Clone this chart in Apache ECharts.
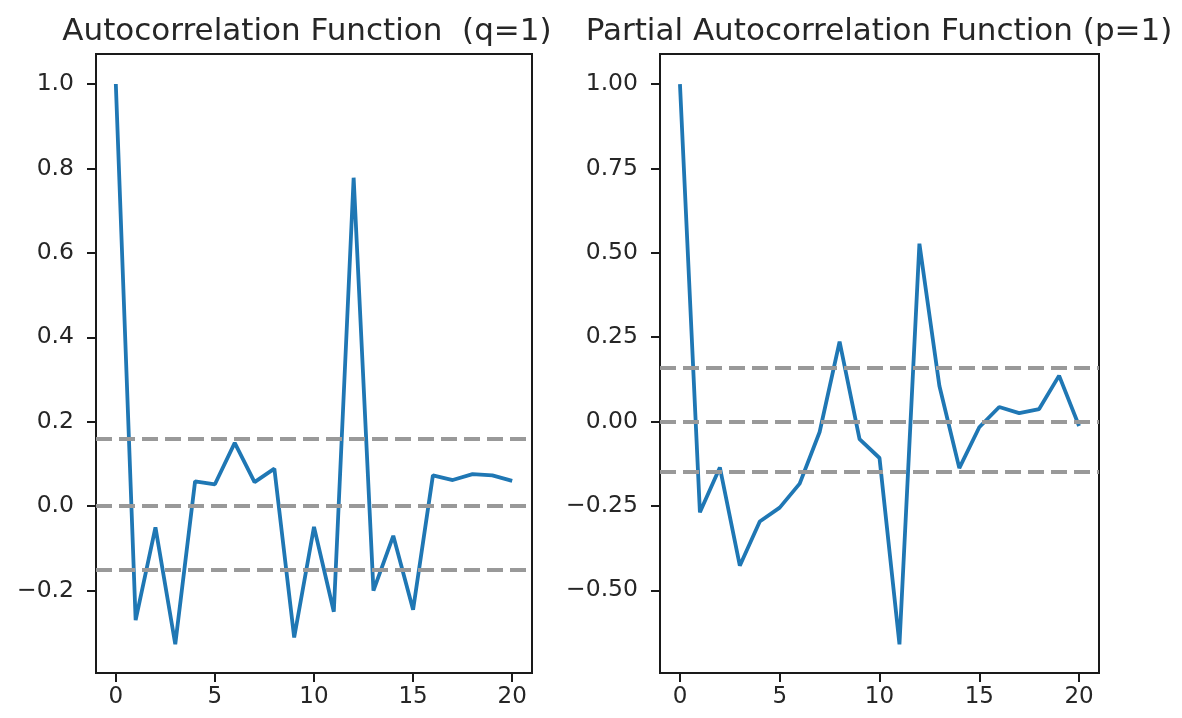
<!DOCTYPE html>
<html>
<head>
<meta charset="utf-8">
<script src="https://cdn.jsdelivr.net/npm/echarts@6/dist/echarts.min.js"></script>
<style>
  html, body { margin: 0; padding: 0; background: #ffffff; }
  #chart { width: 1182px; height: 718px; }
</style>
</head>
<body>
<div id="chart"></div>
<script>
// ---- data ----
const lags = [0,1,2,3,4,5,6,7,8,9,10,11,12,13,14,15,16,17,18,19,20];
const acfValues = [1.0, -0.27, -0.05, -0.327, 0.059, 0.052, 0.15, 0.057, 0.089, -0.311, -0.049, -0.25, 0.778, -0.2, -0.07, -0.245, 0.073, 0.062, 0.076, 0.073, 0.06];
const pacfValues = [1.0, -0.269, -0.136, -0.427, -0.296, -0.255, -0.184, -0.031, 0.237, -0.052, -0.108, -0.66, 0.527, 0.106, -0.138, -0.017, 0.043, 0.025, 0.037, 0.136, -0.013];
const bandLevels = [0.157, 0, -0.150];
const xTicks = [0, 5, 10, 15, 20];
const acfYTicks = [-0.2, 0.0, 0.2, 0.4, 0.6, 0.8, 1.0];
const pacfYTicks = [-0.5, -0.25, 0.0, 0.25, 0.5, 0.75, 1.0];
const titles = ['Autocorrelation Function  (q=1)', 'Partial Autocorrelation Function (p=1)'];

const FONT = 'DejaVu Sans';
const TXT = '#262626';
const fmt = (d) => (v) => {
  let s = Math.abs(v) < 1e-9 ? (0).toFixed(d) : v.toFixed(d);
  return s.replace('-', '\u2212');
};

const grids = [
  { left: 96, top: 54, width: 436, height: 619 },
  { left: 660, top: 54, width: 439, height: 619 }
];
const titleCenters = [302, 874];
const yRanges = [[-0.395, 1.071], [-0.745, 1.089]];
const yTickSets = [acfYTicks, pacfYTicks];
const yDigits = [1, 2];
const dataSets = [acfValues, pacfValues];

const chart = echarts.init(document.getElementById('chart'), null, { renderer: 'canvas' });
const option = {
  animation: false,
  backgroundColor: '#ffffff',
  title: titles.map((t, i) => ({
    text: t,
    left: titleCenters[i],
    top: 11,
    textAlign: 'center',
    textStyle: { fontFamily: FONT, fontSize: 31, fontWeight: 'normal', color: TXT }
  })),
  grid: grids.map(g => Object.assign({
    show: true, borderColor: '#1a1a1a', borderWidth: 2, backgroundColor: 'transparent', containLabel: false
  }, g)),
  xAxis: grids.map((g, i) => ({
    type: 'value', gridIndex: i, min: -1, max: 21, position: 'bottom',
    axisLine: { show: false, onZero: false },
    splitLine: { show: false },
    axisTick: { show: true, inside: false, length: 9, lineStyle: { color: '#1a1a1a', width: 2 }, customValues: xTicks },
    axisLabel: { show: true, customValues: xTicks, margin: 13, fontFamily: FONT, fontSize: 23, color: TXT, formatter: (v) => String(v) }
  })),
  yAxis: grids.map((g, i) => ({
    type: 'value', gridIndex: i, min: yRanges[i][0], max: yRanges[i][1], position: 'left',
    axisLine: { show: false, onZero: false },
    splitLine: { show: false },
    axisTick: { show: true, inside: false, length: 9, lineStyle: { color: '#1a1a1a', width: 2 }, customValues: yTickSets[i] },
    axisLabel: { show: true, customValues: yTickSets[i], margin: 22, fontFamily: FONT, fontSize: 23.5, color: TXT, formatter: fmt(yDigits[i]) }
  })),
  series: dataSets.map((vals, i) => ({
    type: 'line',
    xAxisIndex: i, yAxisIndex: i,
    data: lags.map((l, k) => [l, vals[k]]),
    showSymbol: false,
    symbol: 'none',
    lineStyle: { color: '#1f77b4', width: 3.8 },
    z: 2,
    markLine: {
      silent: true,
      symbol: ['none', 'none'],
      label: { show: false },
      lineStyle: { color: '#999999', width: 4, type: [16, 7] },
      data: bandLevels.map(b => ({ yAxis: b })),
      z: 3
    }
  }))
};
chart.setOption(option);
</script>
</body>
</html>
